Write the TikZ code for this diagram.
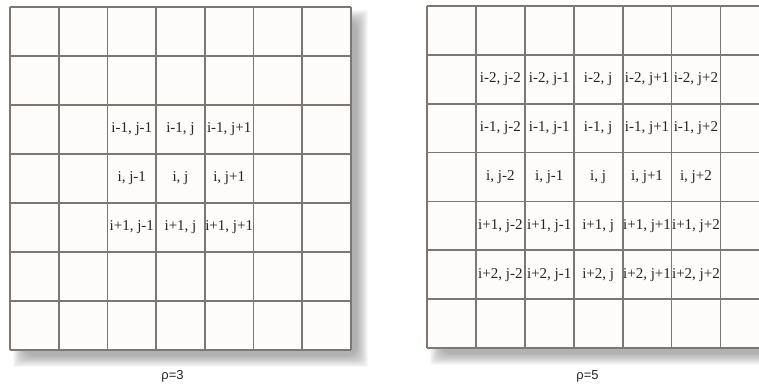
\documentclass[tikz,border=0pt]{standalone}
\usepackage{fontspec}
\setmainfont{Liberation Serif}
\newfontfamily\labfont{Liberation Sans}
\definecolor{gridgray}{RGB}{124,119,115}
\definecolor{cellfill}{RGB}{254,252,250}
\definecolor{txtcol}{RGB}{40,36,34}
\begin{document}
\begin{tikzpicture}[x=1pt,y=-1pt,
  gridline/.style={draw=gridgray, line width=1.8pt},
  celltext/.style={font=\fontsize{15}{15}\selectfont, text=txtcol, inner sep=0pt, anchor=center},
  captext/.style={font=\labfont\fontsize{13}{13}\selectfont, text=txtcol, inner sep=0pt, anchor=center}]
\useasboundingbox (0,0) rectangle (759,386);
\fill[white] (0,0) rectangle (759,386);
\begin{scope}
\clip (0,0) rectangle (759,386);
% shadows
\foreach \r in {0,...,11}{
  \fill[black,opacity=0.028,rounded corners=\r pt] ({10+3+\r},{7+3+\r}) rectangle ({351+17-\r},{350+17-\r});
  \fill[black,opacity=0.028,rounded corners=\r pt] ({427+3+\r},{6+3+\r}) rectangle ({769.3+17-\r},{348+17-\r});
}
% left grid
\fill[cellfill] (10,7) rectangle (351,350);
\foreach \i in {0,...,7}{
  \draw[gridline] ({10+48.71*\i},7) -- ({10+48.71*\i},350);
  \draw[gridline] (10,{7+49*\i}) -- (351,{7+49*\i});
}
% right grid
\fill[cellfill] (427,6) rectangle (769.3,348);
\foreach \i in {0,...,7}{
  \draw[gridline] ({427+48.9*\i},6) -- ({427+48.9*\i},348);
  \draw[gridline] (427,{6+48.86*\i}) -- (769.3,{6+48.86*\i});
}
\end{scope}
% left texts
\foreach \x/\y/\t/\nm in {
  131.78/129.5/{i-1, j-1}/L22, 180.49/129.5/{i-1, j}/L23, 229.2/129.5/{i-1, j+1}/L24,
  131.78/178.5/{i, j-1}/L32,   180.49/178.5/{i, j}/L33,   229.2/178.5/{i, j+1}/L34,
  131.78/227.5/{i+1, j-1}/L42, 180.49/227.5/{i+1, j}/L43, 229.2/227.5/{i+1, j+1}/L44}
  \node[celltext] (\nm) at (\x,\y) {\t};
% right texts
\foreach \x/\y/\t/\nm in {
  500.35/79.29/{i-2, j-2}/R11, 549.25/79.29/{i-2, j-1}/R12, 598.15/79.29/{i-2, j}/R13, 647.05/79.29/{i-2, j+1}/R14, 695.95/79.29/{i-2, j+2}/R15,
  500.35/128.15/{i-1, j-2}/R21, 549.25/128.15/{i-1, j-1}/R22, 598.15/128.15/{i-1, j}/R23, 647.05/128.15/{i-1, j+1}/R24, 695.95/128.15/{i-1, j+2}/R25,
  500.35/177.01/{i, j-2}/R31, 549.25/177.01/{i, j-1}/R32, 598.15/177.01/{i, j}/R33, 647.05/177.01/{i, j+1}/R34, 695.95/177.01/{i, j+2}/R35,
  500.35/225.87/{i+1, j-2}/R41, 549.25/225.87/{i+1, j-1}/R42, 598.15/225.87/{i+1, j}/R43, 647.05/225.87/{i+1, j+1}/R44, 695.95/225.87/{i+1, j+2}/R45,
  500.35/274.73/{i+2, j-2}/R51, 549.25/274.73/{i+2, j-1}/R52, 598.15/274.73/{i+2, j}/R53, 647.05/274.73/{i+2, j+1}/R54, 695.95/274.73/{i+2, j+2}/R55}
  \node[celltext] (\nm) at (\x,\y) {\t};
% captions
\node[captext] (capL) at (172.5,376) {ρ=3};
\node[captext] (capR) at (587.5,376) {ρ=5};
\end{tikzpicture}
\end{document}
